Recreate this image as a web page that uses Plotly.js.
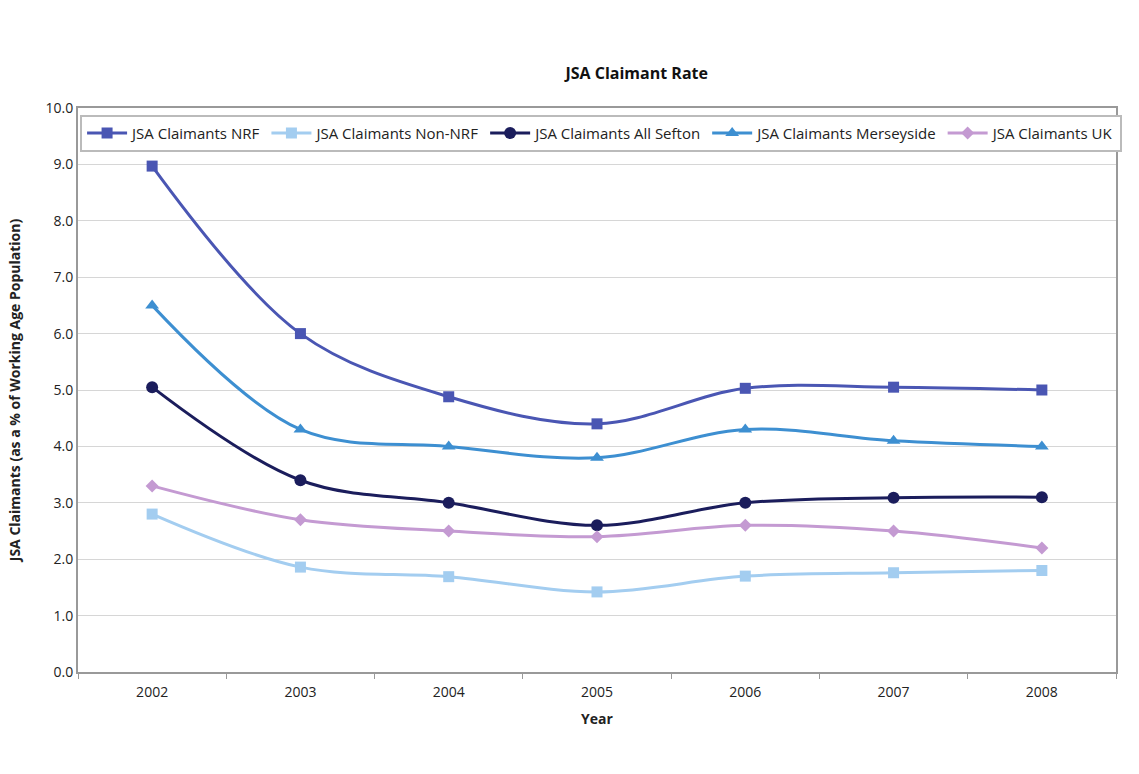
<!DOCTYPE html>
<html>
<head>
<meta charset="utf-8">
<script src="https://cdn.plot.ly/plotly-3.0.1.min.js"></script>
<style>html,body{margin:0;padding:0;background:#fff;}#chart{width:1139px;height:774px;}</style>
</head>
<body>
<div id="chart"></div>
<script>
const years = ["2002","2003","2004","2005","2006","2007","2008"];
const nrf = [8.97, 6.0, 4.88, 4.4, 5.03, 5.05, 5.0];
const nonNrf = [2.8, 1.86, 1.69, 1.42, 1.7, 1.76, 1.8];
const allSefton = [5.05, 3.4, 3.0, 2.6, 3.0, 3.09, 3.1];
const merseyside = [6.5, 4.3, 4.0, 3.8, 4.3, 4.1, 4.0];
const uk = [3.3, 2.7, 2.5, 2.4, 2.6, 2.5, 2.2];
const seriesNames = ["JSA Claimants NRF","JSA Claimants Non-NRF","JSA Claimants All Sefton","JSA Claimants Merseyside","JSA Claimants UK"];

const styles = [
  {color:"#4a56b3", symbol:"square", size:11},
  {color:"#a3cdf0", symbol:"square", size:11},
  {color:"#1b1d5c", symbol:"circle", size:12},
  {color:"#3d8fd1", symbol:"triangle-up", size:12},
  {color:"#c49ad2", symbol:"diamond", size:10}
];
const data = [nrf, nonNrf, allSefton, merseyside, uk].map((v,i)=>({
  x: years, y: v, name: seriesNames[i], type:"scatter", mode:"lines+markers",
  line:{color:styles[i].color, width:3, shape:"spline", smoothing:1},
  marker:{color:styles[i].color, symbol:styles[i].symbol, size:styles[i].size}
}));

const font = "Open Sans, DejaVu Sans, sans-serif";
const layout = {
  width:1139, height:774,
  margin:{l:78, r:23, t:108, b:102},
  paper_bgcolor:"#fff", plot_bgcolor:"#fff",
  font:{family:font, color:"#222", size:14},
  title:{text:"<b>JSA Claimant Rate</b>", x:0.559, xref:"container", xanchor:"center", y:0.905, yanchor:"middle", font:{size:16, family:font, color:"#111"}},
  xaxis:{
    type:"category", range:[-0.5,6.5], tickson:"boundaries", ticks:"outside", ticklen:5, tickcolor:"#999",
    showgrid:false, showline:true, linecolor:"#999", linewidth:2, mirror:true,
    title:{text:"<b>Year</b>", font:{size:14, family:font}, standoff:14},
    tickfont:{size:14}, ticklabelstandoff:6
  },
  yaxis:{
    range:[0,10], dtick:1, tickformat:".1f", showgrid:true, gridcolor:"#d6d6d6", gridwidth:1,
    showline:true, linecolor:"#999", linewidth:2, mirror:true, zeroline:false, ticks:"",
    title:{text:"<b>JSA Claimants (as a % of Working Age Population)</b>", font:{size:14, family:font}, standoff:22},
    tickfont:{size:14}
  },
  legend:{orientation:"h", x:0.002, xanchor:"left", y:0.988, yanchor:"top", bgcolor:"#fff",
    bordercolor:"#bbb", borderwidth:2, font:{size:15, family:font}, itemwidth:40, tracegroupgap:0},
  showlegend:true
};
Plotly.newPlot("chart", data, layout, {displayModeBar:false, staticPlot:true});
</script>
</body>
</html>
